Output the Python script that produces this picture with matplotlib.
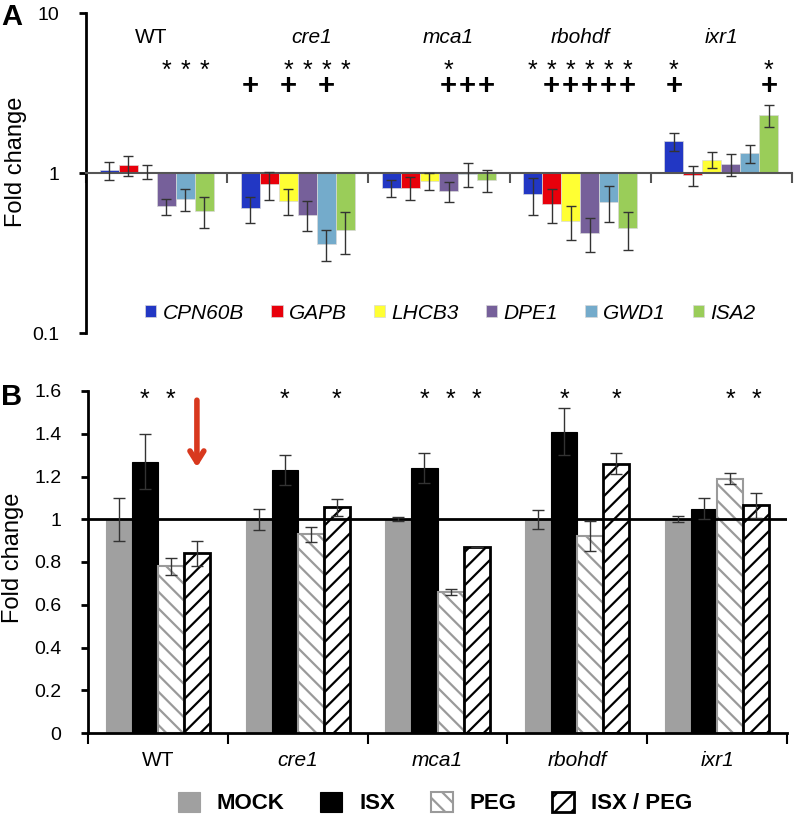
import matplotlib.pyplot as plt
import numpy as np
from matplotlib.patches import Patch
from matplotlib.ticker import NullLocator

plt.rcParams['font.family'] = ['Liberation Sans', 'DejaVu Sans']
plt.rcParams['hatch.linewidth'] = 1.6

grupos = ["WT", "cre1", "mca1", "rbohdf", "ixr1"]

# Painel A: genes (escala log)
genes = ["CPN60B", "GAPB", "LHCB3", "DPE1", "GWD1", "ISA2"]
cores_genes = ["#2237c4", "#e8000b", "#ffff33", "#76609a", "#74abcb", "#9acd59"]

fc_wt = [1.04, 1.12, 1.02, 0.62, 0.69, 0.58]
fc_cre1 = [0.60, 0.85, 0.67, 0.55, 0.36, 0.44]
fc_mca1 = [0.81, 0.81, 0.89, 0.77, 0.99, 0.90]
fc_rbohdf = [0.74, 0.64, 0.50, 0.42, 0.66, 0.45]
fc_ixr1 = [1.58, 0.97, 1.21, 1.14, 1.33, 2.30]

err_wt = [0.13, 0.16, 0.10, 0.07, 0.11, 0.13]
err_cre1 = [0.11, 0.17, 0.125, 0.115, 0.08, 0.13]
err_mca1 = [0.10, 0.13, 0.11, 0.11, 0.17, 0.14]
err_rbohdf = [0.19, 0.155, 0.12, 0.10, 0.165, 0.12]
err_ixr1 = [0.20, 0.14, 0.14, 0.18, 0.175, 0.36]

# índices das barras marcadas em cada grupo
estrela_a = [[3, 4, 5], [2, 3, 4, 5], [3], [0, 1, 2, 3, 4, 5], [0, 5]]
mais_a = [[], [0, 2, 4], [3, 4, 5], [1, 2, 3, 4, 5], [0, 5]]

# Painel B: tratamentos
tratamentos = ["MOCK", "ISX", "PEG", "ISX / PEG"]
mock = [1.0, 1.0, 1.0, 1.0, 1.0]
isx = [1.27, 1.23, 1.24, 1.41, 1.05]
peg = [0.78, 0.93, 0.66, 0.92, 1.19]
isx_peg = [0.84, 1.055, 0.87, 1.26, 1.065]

err_mock = [0.10, 0.05, 0.01, 0.045, 0.015]
err_isx = [0.13, 0.07, 0.07, 0.11, 0.05]
err_peg = [0.04, 0.035, 0.015, 0.07, 0.025]
err_isx_peg = [0.06, 0.04, 0.0, 0.05, 0.06]

estrela_b = [[1, 2], [1, 3], [1, 2, 3], [1, 3], [2, 3]]

W, H = 797, 817
fig = plt.figure(figsize=(W / 100, H / 100), dpi=100)

# ---------------- Painel A ----------------
axA = fig.add_axes([86 / W, 1 - 333 / H, (792 - 86) / W, (333 - 13) / H])
x = np.arange(len(grupos))
larg_a = 0.1346
fc_a = np.array([fc_wt, fc_cre1, fc_mca1, fc_rbohdf, fc_ixr1])
err_a = np.array([err_wt, err_cre1, err_mca1, err_rbohdf, err_ixr1])

for i, gene in enumerate(genes):
    pos = x + (i - 2.5) * larg_a
    vals = fc_a[:, i]
    axA.bar(pos, vals - 1, bottom=1, width=larg_a, facecolor=cores_genes[i],
            edgecolor="#d8d8d8", linewidth=0.5, label=gene, zorder=2)
    axA.errorbar(pos, vals, yerr=err_a[:, i], fmt="none", ecolor="#333333",
                 elinewidth=1, capsize=3.5, capthick=1, zorder=3)

axA.set_yscale("log")
axA.set_ylim(0.1, 10)
axA.set_xlim(-0.5, 4.5)
axA.set_yticks([0.1, 1, 10])
axA.set_yticklabels(["0.1", "1", "10"])
axA.yaxis.set_minor_locator(NullLocator())
axA.set_xticks(np.arange(-0.5, 5, 1))
axA.set_xticklabels([])
axA.spines["bottom"].set_position(("data", 1))
axA.spines["bottom"].set_color("#555555")
axA.spines["bottom"].set_linewidth(1.5)
axA.spines["left"].set_linewidth(2)
axA.spines["top"].set_visible(False)
axA.spines["right"].set_visible(False)
axA.tick_params(axis="x", direction="out", length=7, width=1.5, color="#555555")
axA.tick_params(axis="y", direction="out", length=5, width=2, labelsize=14, pad=14)

# deslocamento dos nomes dos grupos (como no original)
desloc_nome = [-0.04, 0.1, 0.065, 0.0, 0.0]
trans = axA.get_xaxis_transform()
for g, nome in enumerate(grupos):
    estilo = "normal" if nome == "WT" else "italic"
    axA.text(g + desloc_nome[g], 0.922, nome, transform=trans, ha="center",
             va="center", fontsize=15, style=estilo)
    for b in estrela_a[g]:
        axA.text(g + (b - 2.5) * larg_a, 0.818, "*", transform=trans,
                 ha="center", va="center", fontsize=18)
    for b in mais_a[g]:
        axA.text(g + (b - 2.5) * larg_a, 0.772, "+", transform=trans,
                 ha="center", va="center", fontsize=21, fontweight="bold")

axA.legend(loc="center", bbox_to_anchor=(0.516, 0.0625), ncol=6, frameon=False,
           prop={"style": "italic", "size": 15}, handlelength=0.55, handleheight=0.55,
           handletextpad=0.3, columnspacing=1.3)

# ---------------- Painel B ----------------
axB = fig.add_axes([88 / W, 1 - 733 / H, (787 - 88) / W, (733 - 391) / H])
larg_b = 0.186
series_b = [mock, isx, peg, isx_peg]
erros_b = [err_mock, err_isx, err_peg, err_isx_peg]
estilos_b = [
    dict(facecolor="#a0a0a0", edgecolor="#a0a0a0", linewidth=0.8),
    dict(facecolor="black", edgecolor="black", linewidth=0.8),
    dict(facecolor="white", edgecolor="#9a9a9a", hatch="\\\\", linewidth=1.5),
    dict(facecolor="white", edgecolor="black", hatch="//", linewidth=2),
]

for i, trat in enumerate(tratamentos):
    pos = x + (i - 1.5) * larg_b
    axB.bar(pos, series_b[i], width=larg_b, zorder=2, **estilos_b[i])
    axB.errorbar(pos, series_b[i], yerr=erros_b[i], fmt="none", ecolor="#333333",
                 elinewidth=1, capsize=4, capthick=1, zorder=4)

axB.axhline(1, color="black", linewidth=2, zorder=3)
axB.set_ylim(0, 1.6)
axB.set_xlim(-0.5, 4.5)
yt = np.round(np.arange(0, 1.61, 0.2), 1)
axB.set_yticks(yt)
axB.set_yticklabels([f"{v:g}" for v in yt])
axB.set_xticks(np.arange(-0.5, 5, 1))
axB.set_xticklabels([])
axB.set_xticks(x, minor=True)
axB.set_xticklabels(grupos, minor=True)
for lab in axB.get_xticklabels(minor=True):
    if lab.get_text() != "WT":
        lab.set_style("italic")
axB.spines["top"].set_visible(False)
axB.spines["right"].set_visible(False)
axB.spines["left"].set_linewidth(2)
axB.spines["bottom"].set_linewidth(2)
axB.tick_params(axis="x", which="major", direction="out", length=8, width=1.5)
axB.tick_params(axis="x", which="minor", length=0, labelsize=15, pad=13)
axB.tick_params(axis="y", direction="out", length=5, width=2, labelsize=14, pad=14)

for g in range(len(grupos)):
    for b in estrela_b[g]:
        axB.text(g + (b - 1.5) * larg_b, 1.56, "*", ha="center", va="center", fontsize=18)

# seta vermelha sobre ISX/PEG do WT
xs = 0 + 1.5 * larg_b
axB.annotate("", xy=(xs, 1.23), xytext=(xs, 1.57),
             arrowprops=dict(arrowstyle="->,head_length=0.8,head_width=0.5",
                             color="#d8381e", lw=4), zorder=5)

handles_b = [Patch(**estilos_b[i], label=t) for i, t in enumerate(tratamentos)]
fig.legend(handles=handles_b, loc="center", bbox_to_anchor=(435 / W, 1 - 803 / H), ncol=4,
           frameon=False, prop={"weight": "bold", "size": 16}, handlelength=1.0,
           handleheight=1.0, handletextpad=0.75, columnspacing=1.6)

fig.text(16 / W, 1 - 162 / H, "Fold change", rotation=90, ha="center", va="center", fontsize=17)
fig.text(13 / W, 1 - 558 / H, "Fold change", rotation=90, ha="center", va="center", fontsize=17)
fig.text(1 / W, 1 - 17 / H, "A", fontsize=21, fontweight="bold", va="center")
fig.text(1 / W, 1 - 397 / H, "B", fontsize=21, fontweight="bold", va="center")

fig.savefig("out.png", dpi=100)
